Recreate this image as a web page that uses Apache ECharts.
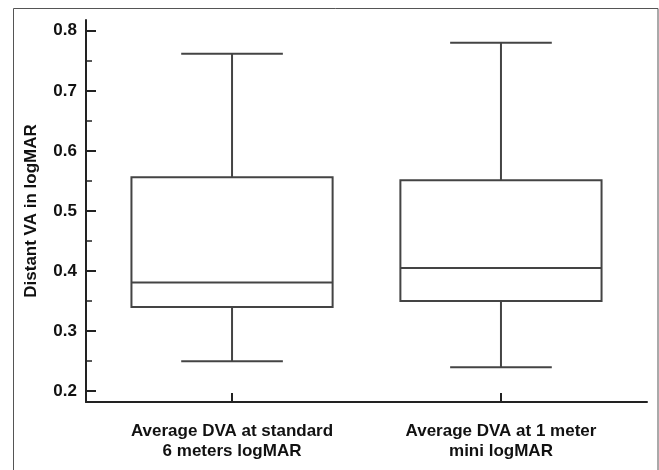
<!DOCTYPE html>
<html><head><meta charset="utf-8">
<script src="https://cdn.jsdelivr.net/npm/echarts@6/dist/echarts.min.js"></script>
<style>html,body{margin:0;padding:0;background:#fff}#c{width:659px;height:470px}</style>
</head><body><div id="c"></div>
<script>
var categories = ["Average DVA at standard\n6 meters logMAR", "Average DVA at 1 meter\nmini logMAR"];
var categoryPositions = [1, 2];
var whiskerLow = [0.25, 0.24];
var q1 = [0.34, 0.35];
var median = [0.381, 0.405];
var q3 = [0.556, 0.551];
var whiskerHigh = [0.762, 0.78];
var yMajorTicks = [0.2, 0.3, 0.4, 0.5, 0.6, 0.7, 0.8];
var yMinorTicks = [0.25, 0.35, 0.45, 0.55, 0.65, 0.75];
var yAxisName = "Distant VA in logMAR";

var data = categoryPositions.map(function (x, i) {
  return [x, whiskerLow[i], q1[i], median[i], q3[i], whiskerHigh[i]];
});

var chart = echarts.init(document.getElementById('c'), null, {renderer: 'canvas'});
var lineCol = '#444';
var font = {fontFamily: 'Liberation Sans, Arial, sans-serif', fontWeight: 'bold', fontSize: 17, color: '#111'};

chart.setOption({
  backgroundColor: '#fff',
  animation: false,
  graphic: [{
    type: 'rect', shape: {x: 13.5, y: 8.5, width: 644.5, height: 470},
    style: {fill: 'none', stroke: '#555', lineWidth: 1}, silent: true, z: -1
  }],
  grid: {left: 86, right: 12, top: 20, bottom: 68},
  xAxis: {
    type: 'value', min: 0.457, max: 2.543,
    splitLine: {show: false},
    axisLine: {show: true, onZero: false, lineStyle: {color: '#222', width: 2}},
    axisTick: {show: true, inside: true, length: 9, customValues: categoryPositions, lineStyle: {color: '#222', width: 2}},
    axisLabel: Object.assign({
      customValues: categoryPositions, margin: 19, lineHeight: 20,
      formatter: function (v) { var i = categoryPositions.indexOf(Math.round(v)); return i >= 0 ? categories[i] : ''; }
    }, font)
  },
  yAxis: [{
    type: 'value', min: 0.182, max: 0.818, position: 'left',
    name: yAxisName, nameLocation: 'middle', nameGap: 46,
    nameTextStyle: font,
    splitLine: {show: false},
    axisLine: {show: true, onZero: false, lineStyle: {color: '#222', width: 2}},
    axisTick: {show: true, inside: true, length: 10, customValues: yMajorTicks, lineStyle: {color: '#222', width: 2}},
    axisLabel: Object.assign({customValues: yMajorTicks, margin: 9, formatter: function (v) { return v.toFixed(1); }}, font)
  }, {
    type: 'value', min: 0.182, max: 0.818, position: 'left', offset: 0,
    splitLine: {show: false},
    axisLine: {show: false},
    axisTick: {show: true, inside: true, length: 6, customValues: yMinorTicks, lineStyle: {color: '#222', width: 1.5}},
    axisLabel: {show: false}
  }],
  series: [{
    type: 'custom',
    data: data,
    encode: {x: 0, y: [1, 2, 3, 4, 5]},
    renderItem: function (params, api) {
      var x = api.value(0);
      var boxHalf = 0.374, capHalf = 0.189;
      var pLow = api.coord([x, api.value(1)]);
      var pQ1 = api.coord([x, api.value(2)]);
      var pMed = api.coord([x, api.value(3)]);
      var pQ3 = api.coord([x, api.value(4)]);
      var pHigh = api.coord([x, api.value(5)]);
      var bl = api.coord([x - boxHalf, api.value(2)])[0];
      var br = api.coord([x + boxHalf, api.value(2)])[0];
      var cl = api.coord([x - capHalf, api.value(1)])[0];
      var cr = api.coord([x + capHalf, api.value(1)])[0];
      var st = {stroke: lineCol, lineWidth: 2, fill: 'none'};
      function line(x1, y1, x2, y2) { return {type: 'line', shape: {x1: x1, y1: y1, x2: x2, y2: y2}, style: st}; }
      return {type: 'group', children: [
        {type: 'rect', shape: {x: bl, y: pQ3[1], width: br - bl, height: pQ1[1] - pQ3[1]}, style: st},
        line(bl, pMed[1], br, pMed[1]),
        line(pQ3[0], pQ3[1], pHigh[0], pHigh[1]),
        line(pQ1[0], pQ1[1], pLow[0], pLow[1]),
        line(cl, pHigh[1], cr, pHigh[1]),
        line(cl, pLow[1], cr, pLow[1])
      ]};
    }
  }]
});
</script></body></html>
